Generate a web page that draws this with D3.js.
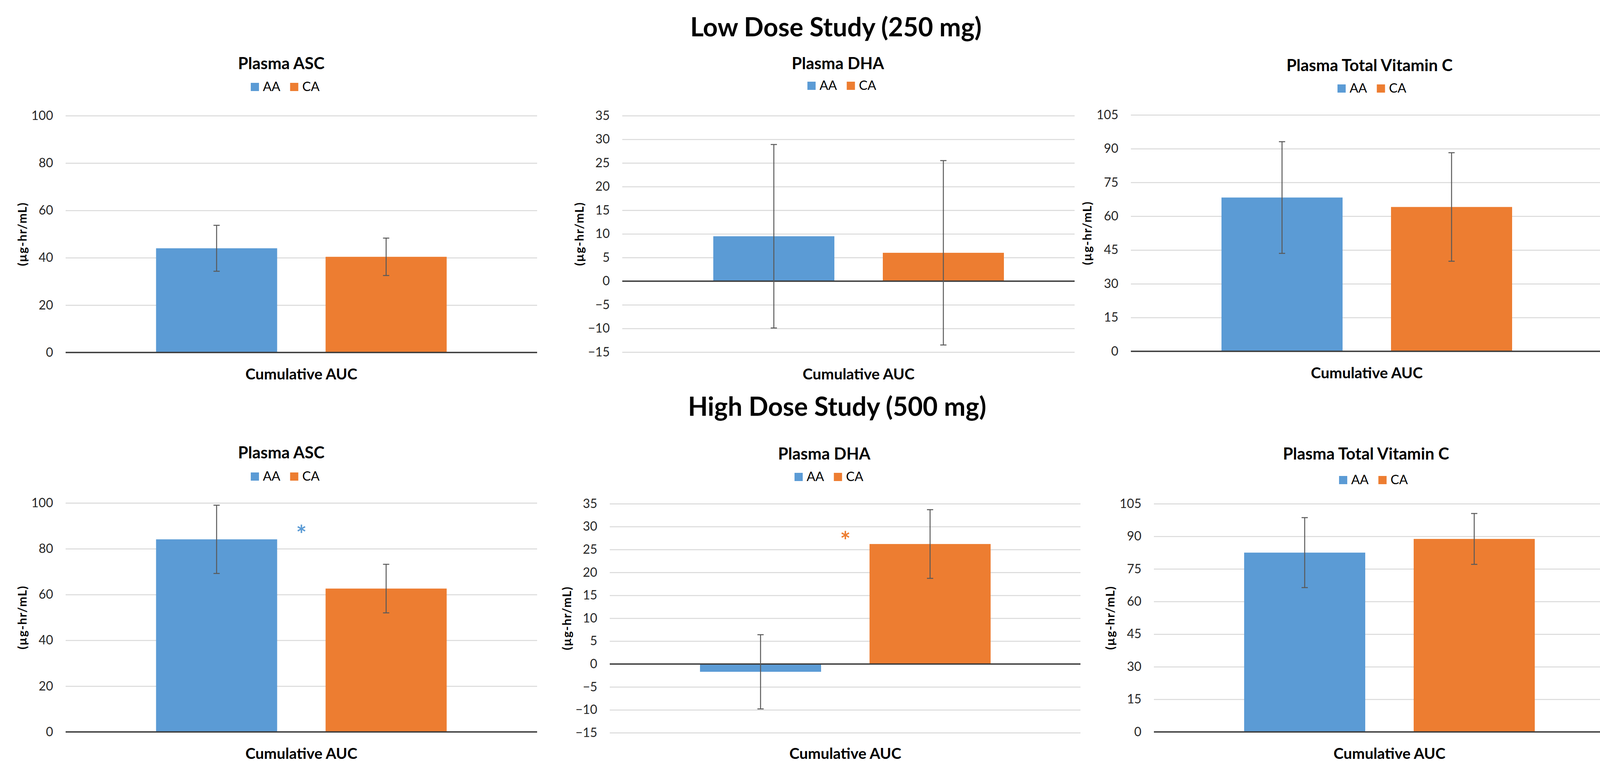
<!DOCTYPE html>
<html>
<head>
<meta charset="utf-8">
<script src="https://cdn.jsdelivr.net/npm/d3@7"></script>
<style>
  body { margin: 0; background: #fff; }
  text { font-family: Lato, "Open Sans", sans-serif; }
</style>
</head>
<body>
<div id="chart"></div>
<script>
// data
const categories = ["Cumulative AUC"];
const series = ["AA", "CA"];
const studyTitles = ["Low Dose Study (250 mg)", "High Dose Study (500 mg)"];
const panelTitles = ["Plasma ASC", "Plasma DHA", "Plasma Total Vitamin C"];
const yLabel = "(µg-hr/mL)";

const lowASC = [44.0, 40.4];
const lowASCErr = [9.7, 7.9];
const lowDHA = [9.5, 6.0];
const lowDHAErr = [19.4, 19.5];
const lowTotal = [68.3, 64.1];
const lowTotalErr = [24.8, 24.1];

const highASC = [84.1, 62.6];
const highASCErr = [14.9, 10.6];
const highDHA = [-1.7, 26.2];
const highDHAErr = [8.1, 7.5];
const highTotal = [82.5, 88.8];
const highTotalErr = [16.1, 11.7];

const ticksASC = [0, 20, 40, 60, 80, 100];
const ticksDHA = [-15, -10, -5, 0, 5, 10, 15, 20, 25, 30, 35];
const ticksTotal = [0, 15, 30, 45, 60, 75, 90, 105];

// significance marks: [series, value]
const sigHighASC = ["AA", 88.4];
const sigHighDHA = ["CA", 28.0];

const colors = { AA: "#5B9BD5", CA: "#ED7D31" };

const svgWidth = 4180;
const svgHeight = 1973;

const svg = d3.select("#chart").append("svg")
  .attr("width", svgWidth)
  .attr("height", svgHeight)
  .style("background", "#fff");

// study headers
const headerPos = [[2140, 93], [2143, 1064]];
studyTitles.forEach((t, i) => {
  svg.append("text")
    .attr("x", headerPos[i][0])
    .attr("y", headerPos[i][1])
    .attr("text-anchor", "middle")
    .attr("font-size", 66)
    .attr("font-weight", 700)
    .attr("fill", "#000")
    .text(t);
});

// panel geometry (pixels)
const panels = [
  { title: panelTitles[0], vals: lowASC, errs: lowASCErr, ticks: ticksASC, sig: null,
    l: 168, r: 1375, t: 296, b: 902, cx: 771.5, tx: 720, ty: 177, lx: 730, ly: 212, yx: 57, xy: 971 },
  { title: panelTitles[1], vals: lowDHA, errs: lowDHAErr, ticks: ticksDHA, sig: null,
    l: 1593, r: 2751, t: 296, b: 901, cx: 2198, tx: 2145, ty: 177, lx: 2155, ly: 209, yx: 1483, xy: 971 },
  { title: panelTitles[2], vals: lowTotal, errs: lowTotalErr, ticks: ticksTotal, sig: null,
    l: 2895, r: 4103, t: 294, b: 899, cx: 3499, tx: 3506, ty: 182, lx: 3512, ly: 216, yx: 2783, xy: 968 },
  { title: panelTitles[0], vals: highASC, errs: highASCErr, ticks: ticksASC, sig: sigHighASC,
    l: 168, r: 1375, t: 1287, b: 1873, cx: 771.5, tx: 720, ty: 1173, lx: 730, ly: 1209, yx: 57, xy: 1942 },
  { title: panelTitles[1], vals: highDHA, errs: highDHAErr, ticks: ticksDHA, sig: sigHighDHA,
    l: 1561, r: 2766, t: 1289, b: 1875, cx: 2164, tx: 2110, ty: 1176, lx: 2122, ly: 1210, yx: 1451, xy: 1942 },
  { title: panelTitles[2], vals: highTotal, errs: highTotalErr, ticks: ticksTotal, sig: null,
    l: 2954, r: 4160, t: 1289, b: 1873, cx: 3557, tx: 3497, ty: 1176, lx: 3516, ly: 1218, yx: 2842, xy: 1942 }
];

const groupW = 744;

panels.forEach(p => drawPanel(p));

function drawPanel(p) {
  const g = svg.append("g");
  const w = p.r - p.l;

  const y = d3.scaleLinear()
    .domain([d3.min(p.ticks), d3.max(p.ticks)])
    .range([p.b, p.t]);

  const x0 = d3.scaleBand()
    .domain(categories)
    .range([p.cx - groupW / 2, p.cx + groupW / 2]);

  const x1 = d3.scaleBand()
    .domain(series)
    .range([0, x0.bandwidth()])
    .paddingInner(124 / 434);

  // gridlines + tick labels
  const yAxis = g.append("g")
    .attr("transform", `translate(${p.l},0)`)
    .call(d3.axisLeft(y).tickValues(p.ticks).tickSize(-w).tickPadding(32).tickFormat(d3.format("d")));
  yAxis.select(".domain").remove();
  yAxis.selectAll(".tick line").attr("stroke", "#D9D9D9").attr("stroke-width", 2.5);
  yAxis.selectAll(".tick text")
    .attr("font-size", 32)
    .attr("font-family", "Lato, sans-serif")
    .attr("fill", "#262626");

  // bars
  const data = series.map((s, i) => ({ s: s, v: p.vals[i], e: p.errs[i] }));
  g.append("g").selectAll("rect")
    .data(data)
    .enter()
    .append("rect")
    .attr("x", d => x0(categories[0]) + x1(d.s))
    .attr("y", d => y(Math.max(0, d.v)))
    .attr("width", x1.bandwidth())
    .attr("height", d => Math.abs(y(d.v) - y(0)))
    .attr("fill", d => colors[d.s]);

  // zero axis line
  g.append("line")
    .attr("x1", p.l).attr("x2", p.r)
    .attr("y1", y(0)).attr("y2", y(0))
    .attr("stroke", "#3A3A3A")
    .attr("stroke-width", 3.5);

  // error bars
  const eb = g.append("g").selectAll("g")
    .data(data)
    .enter()
    .append("g")
    .attr("stroke", "#595959")
    .attr("stroke-width", 2.5);
  const ex = d => x0(categories[0]) + x1(d.s) + x1.bandwidth() / 2;
  eb.append("line")
    .attr("x1", ex).attr("x2", ex)
    .attr("y1", d => y(d.v + d.e)).attr("y2", d => y(d.v - d.e));
  eb.append("line")
    .attr("x1", d => ex(d) - 8).attr("x2", d => ex(d) + 8)
    .attr("y1", d => y(d.v + d.e)).attr("y2", d => y(d.v + d.e));
  eb.append("line")
    .attr("x1", d => ex(d) - 8).attr("x2", d => ex(d) + 8)
    .attr("y1", d => y(d.v - d.e)).attr("y2", d => y(d.v - d.e));

  // significance asterisk at the category centre
  if (p.sig) {
    g.append("text")
      .attr("x", x0(categories[0]) + x0.bandwidth() / 2)
      .attr("y", y(p.sig[1]) + 36)
      .attr("text-anchor", "middle")
      .attr("font-size", 64)
      .attr("font-weight", 700)
      .attr("fill", colors[p.sig[0]])
      .text("*");
  }

  // panel title
  g.append("text")
    .attr("x", p.tx).attr("y", p.ty)
    .attr("text-anchor", "middle")
    .attr("font-size", 42)
    .attr("font-weight", 700)
    .attr("fill", "#000")
    .text(p.title);

  // legend
  const leg = g.append("g");
  let cur = 0;
  series.forEach((s, i) => {
    if (i > 0) cur += 25;
    leg.append("rect")
      .attr("x", cur).attr("y", 0)
      .attr("width", 21).attr("height", 21)
      .attr("fill", colors[s]);
    cur += 21 + 10;
    const t = leg.append("text")
      .attr("x", cur).attr("y", 21)
      .attr("font-size", 33)
      .attr("fill", "#000")
      .text(s);
    cur += t.node().getComputedTextLength();
  });
  leg.attr("transform", `translate(${p.lx - cur / 2},${p.ly})`);

  // axis titles
  g.append("text")
    .attr("x", x0(categories[0]) + x0.bandwidth() / 2)
    .attr("y", p.xy)
    .attr("text-anchor", "middle")
    .attr("font-size", 39)
    .attr("font-weight", 700)
    .attr("fill", "#000")
    .text(categories[0]);

  g.append("text")
    .attr("transform", `translate(${p.yx + 11},${(p.t + p.b) / 2})rotate(-90)`)
    .attr("text-anchor", "middle")
    .attr("font-size", 31)
    .attr("font-weight", 700)
    .attr("letter-spacing", 1.5)
    .attr("fill", "#000")
    .text(yLabel);
}
</script>
</body>
</html>
